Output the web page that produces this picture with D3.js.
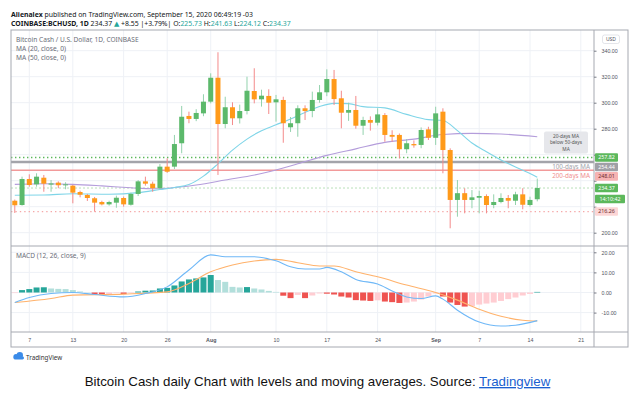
<!DOCTYPE html>
<meta charset="utf-8">
<title>BCHUSD daily</title>
<style>
html, body {
  margin: 0;
  padding: 0;
  background: #fff;
}
svg {
  display: block;
  font-family: "Noto Sans", "DejaVu Sans", sans-serif;
}
.grid line { stroke: #eef1f6; stroke-width: 1; }
.axis text { fill: #50535e; font-size: 5.3px; }
.axis line { stroke: #787b86; }
.axis .domain { display: none; }
.frame { fill: none; stroke: #a6a9b1; stroke-width: 1; }
.legend { fill: #6a6d78; font-size: 6.6px; }
.head { fill: #131722; font-size: 6.9px; }
</style>
<body>
<svg width="643" height="404"></svg>
<script src="https://d3js.org/d3.v7.min.js"></script>
<script>

// daily candles, Jul 5 .. Sep 15 2020
var startDay = new Date(2020, 6, 5),
    endDay = new Date(2020, 8, 16);

var opens = [224.6, 221.3, 241.3, 237.2, 242.3, 237.0, 238.5, 236.5, 236.2, 231.3,
  229.0, 226.5, 223.6, 221.8, 223.1, 226.7, 221.5, 229.8, 239.5, 237.7,
  234.2, 250.8, 250.8, 268.8, 289.8, 287.5, 291.8, 300.8, 319.2, 283.6,
  296.5, 288.0, 293.6, 309.0, 302.6, 305.2, 300.3, 302.1, 281.1, 284.2,
  295.7, 293.6, 302.1, 308.0, 318.2, 303.4, 292.3, 294.4, 282.3, 286.7,
  284.6, 290.5, 275.2, 275.2, 264.2, 268.2, 267.5, 279.5, 273.0, 293.1,
  263.6, 225.2, 230.4, 225.2, 226.9, 228.2, 221.3, 223.6, 226.7, 224.6,
  229.5, 221.3, 225.73];
var highs = [225.5, 243.1, 244.9, 245.7, 244.4, 240.5, 239.5, 238.8, 236.8, 232.3,
  229.8, 227.5, 224.6, 224.6, 228.5, 227.8, 230.8, 240.5, 243.1, 239.3,
  252.8, 257.2, 275.2, 297.5, 293.1, 295.0, 306.5, 322.6, 338.8, 304.6,
  300.3, 298.5, 320.0, 326.5, 310.0, 310.3, 306.0, 304.6, 289.0, 298.0,
  298.0, 308.5, 313.6, 325.7, 325.2, 309.2, 300.0, 305.2, 289.2, 289.5,
  295.7, 292.0, 278.8, 276.3, 272.0, 271.0, 281.0, 281.5, 296.9, 295.7,
  264.9, 240.5, 234.2, 232.8, 232.3, 229.5, 229.5, 230.3, 229.0, 231.5,
  234.2, 227.7, 241.63];
var lows = [215.2, 220.8, 235.4, 235.4, 231.5, 231.5, 234.2, 233.4, 222.6, 227.2,
  224.4, 216.2, 221.0, 220.8, 219.2, 220.0, 220.8, 228.2, 236.2, 231.5,
  233.4, 246.0, 249.0, 261.1, 284.2, 285.8, 289.6, 299.5, 244.4, 280.3,
  282.8, 284.0, 291.0, 299.5, 297.0, 291.3, 285.4, 269.2, 277.5, 273.8,
  286.7, 288.8, 300.0, 305.0, 298.2, 280.3, 286.0, 280.0, 275.2, 278.5,
  282.5, 270.0, 270.0, 257.2, 261.1, 265.4, 265.0, 271.3, 267.5, 245.7,
  203.4, 212.3, 214.9, 218.8, 214.9, 214.9, 218.8, 222.6, 218.8, 221.3,
  218.0, 220.0, 224.12];
var closes = [221.1, 241.3, 236.7, 243.1, 237.7, 237.9, 236.5, 237.2, 230.8, 229.2,
  226.7, 223.1, 221.8, 223.6, 226.9, 221.8, 229.8, 239.5, 237.7, 234.2,
  250.8, 246.9, 268.2, 289.2, 287.5, 292.1, 300.8, 319.2, 283.6, 296.5,
  288.0, 293.6, 309.2, 302.6, 305.4, 300.0, 302.6, 284.2, 284.2, 295.7,
  293.6, 302.1, 308.0, 318.2, 302.8, 292.3, 294.4, 282.3, 286.7, 284.6,
  291.0, 275.2, 273.8, 264.2, 268.8, 267.2, 279.0, 273.0, 291.8, 263.6,
  225.2, 230.4, 225.2, 227.2, 228.2, 221.3, 223.6, 226.7, 224.6, 229.5,
  221.5, 225.2, 234.37];

// moving averages
var ma20 = [["2020-07-05", 228.8], ["2020-07-09", 229.0], ["2020-07-13", 230.0], ["2020-07-18", 229.6],
  ["2020-07-22", 230.8], ["2020-07-25", 233.2], ["2020-07-27", 234.8], ["2020-07-29", 237.0],
  ["2020-07-31", 243.5], ["2020-08-02", 253.0], ["2020-08-04", 263.5], ["2020-08-06", 272.0],
  ["2020-08-08", 278.5], ["2020-08-10", 283.0], ["2020-08-12", 287.5], ["2020-08-14", 292.5],
  ["2020-08-16", 297.0], ["2020-08-18", 299.5], ["2020-08-20", 299.3], ["2020-08-22", 297.0],
  ["2020-08-25", 296.0], ["2020-08-28", 291.0], ["2020-08-31", 287.0], ["2020-09-02", 286.3],
  ["2020-09-04", 278.5], ["2020-09-06", 269.0], ["2020-09-08", 262.3], ["2020-09-10", 256.0],
  ["2020-09-12", 250.5], ["2020-09-14", 245.5], ["2020-09-15", 242.7]];
var ma50 = [["2020-07-05", 237.2], ["2020-07-09", 237.7], ["2020-07-13", 237.2], ["2020-07-17", 236.0],
  ["2020-07-21", 234.6], ["2020-07-24", 233.8], ["2020-07-26", 234.2], ["2020-07-30", 236.7],
  ["2020-08-03", 240.5], ["2020-08-08", 245.5], ["2020-08-13", 253.0], ["2020-08-17", 259.5],
  ["2020-08-21", 264.5], ["2020-08-25", 269.5], ["2020-08-29", 272.0], ["2020-09-02", 275.5],
  ["2020-09-06", 276.4], ["2020-09-10", 275.9], ["2020-09-15", 273.8]];

// MACD (12, 26, close, 9)
var hist = [-0.3, 1.2, 1.7, 2.5, 2.6, 2.0, 1.8, 1.7, 1.2, 0.5,
  0.1, -0.9, -1.1, -1.0, -0.3, -0.8, -0.2, 0.5, 0.9, 1.0,
  2.0, 2.3, 3.5, 5.5, 6.5, 7.0, 7.5, 8.7, 6.2, 5.3,
  2.8, 2.5, 2.7, 2.0, 1.5, 0.8, 0.3, -1.6, -2.8, -1.2,
  -2.8, -1.5, -0.5, -0.6, -1.0, -2.0, -2.5, -3.8, -4.0, -4.2,
  -3.9, -4.5, -4.8, -5.2, -5.0, -4.5, -3.5, -2.0, -0.5, -2.0,
  -5.0, -6.2, -7.0, -6.8, -6.0, -5.5, -5.0, -4.2, -3.3, -2.5,
  -1.5, -0.7, 0.3];
var macdLine = [["2020-07-05", -5.0], ["2020-07-07", -2.5], ["2020-07-10", -0.5], ["2020-07-13", 0.0],
  ["2020-07-16", -1.0], ["2020-07-20", -2.2], ["2020-07-23", -0.5], ["2020-07-26", 2.8],
  ["2020-07-29", 11.2], ["2020-08-01", 18.7], ["2020-08-03", 17.8], ["2020-08-05", 17.8],
  ["2020-08-07", 17.8], ["2020-08-09", 16.7], ["2020-08-10", 15.8], ["2020-08-12", 12.8],
  ["2020-08-14", 11.7], ["2020-08-16", 11.7], ["2020-08-17", 12.5], ["2020-08-19", 10.3],
  ["2020-08-21", 6.5], ["2020-08-24", 4.2], ["2020-08-26", 0.8], ["2020-08-28", -2.2],
  ["2020-08-30", -3.0], ["2020-09-01", -1.7], ["2020-09-02", -3.3], ["2020-09-04", -8.8],
  ["2020-09-07", -14.7], ["2020-09-10", -16.7], ["2020-09-12", -16.3], ["2020-09-15", -14.0]];
var signalLine = [["2020-07-05", -5.0], ["2020-07-10", -3.0], ["2020-07-13", -1.3], ["2020-07-20", -0.8],
  ["2020-07-26", 0.3], ["2020-07-29", 4.5], ["2020-08-01", 10.3], ["2020-08-04", 13.7],
  ["2020-08-07", 15.7], ["2020-08-10", 16.5], ["2020-08-13", 14.8], ["2020-08-16", 13.2],
  ["2020-08-18", 13.2], ["2020-08-21", 10.3], ["2020-08-24", 7.8], ["2020-08-28", 3.7],
  ["2020-09-01", 0.0], ["2020-09-04", -3.8], ["2020-09-07", -8.3], ["2020-09-10", -11.8],
  ["2020-09-13", -13.8], ["2020-09-15", -14.2]];

// horizontal levels
var greenLevel = 257.82, ma100Level = 254.44, ma200Level = 248.01, supportLevel = 216.26;

var priceTicks = [200, 220, 240, 260, 280, 300, 320, 340];
var macdTicks = [-10, 0, 10, 20];
var dateTicks = ["2020-07-07", "2020-07-13", "2020-07-20", "2020-07-26", "2020-08-01", "2020-08-10",
  "2020-08-17", "2020-08-24", "2020-09-01", "2020-09-07", "2020-09-14", "2020-09-21"];

var parse = d3.timeParse("%Y-%m-%d");
var days = d3.timeDay.range(startDay, endDay);
var candles = days.map(function(d, i) {
  return {date: d, o: opens[i], h: highs[i], l: lows[i], c: closes[i]};
});

var svg = d3.select("svg");

// panel layout
var left = 11, right = 594, outerRight = 628,
    plotTop = 30, priceBottom = 246, macdBottom = 332, plotBottom = 347;

var x = d3.scaleTime()
    .domain([parse("2020-07-07"), parse("2020-09-14")])
    .range([29.3, 530]);
var y = d3.scaleLinear().domain([200, 340]).range([232.7, 50.7]);
var ym = d3.scaleLinear().domain([-10, 20]).range([312.6, 252.3]);

svg.append("rect").attr("width", 643).attr("height", 404).attr("fill", "#fff");

var defs = svg.append("defs");
defs.append("clipPath").attr("id", "clipPrice")
  .append("rect").attr("x", left).attr("y", plotTop).attr("width", right - left).attr("height", priceBottom - plotTop);
defs.append("clipPath").attr("id", "clipMacd")
  .append("rect").attr("x", left).attr("y", priceBottom).attr("width", right - left).attr("height", macdBottom - priceBottom);

// grid
var grid = svg.append("g").attr("class", "grid");
grid.selectAll("line.v").data(dateTicks.map(parse)).join("line")
    .attr("class", "v")
    .attr("x1", function(d) { return x(d); }).attr("x2", function(d) { return x(d); })
    .attr("y1", plotTop).attr("y2", macdBottom);
grid.selectAll("line.hp").data(priceTicks).join("line")
    .attr("class", "hp")
    .attr("x1", left).attr("x2", right)
    .attr("y1", function(d) { return y(d); }).attr("y2", function(d) { return y(d); });
grid.selectAll("line.hm").data(macdTicks).join("line")
    .attr("class", "hm")
    .attr("x1", left).attr("x2", right)
    .attr("y1", function(d) { return ym(d); }).attr("y2", function(d) { return ym(d); });

// level lines
var levels = svg.append("g").attr("clip-path", "url(#clipPrice)");
function level(v, color, width, dash) {
  levels.append("line")
    .attr("x1", left).attr("x2", right)
    .attr("y1", y(v)).attr("y2", y(v))
    .attr("stroke", color).attr("stroke-width", width)
    .attr("stroke-dasharray", dash);
}
level(ma200Level, "#f29a9a", 1.5, null);
level(ma100Level, "#a3a4aa", 2.4, null);
level(greenLevel, "#5cb85c", 1.4, "1.4,2.6");
level(supportLevel, "#f5a9a9", 1.3, "1.4,3");
level(closes[closes.length - 1], "#a8d8a8", 0.8, "2,2");

// moving averages
var maLine = d3.line()
    .x(function(d) { return x(parse(d[0])); })
    .y(function(d) { return y(d[1]); })
    .curve(d3.curveMonotoneX);
var maG = svg.append("g").attr("clip-path", "url(#clipPrice)");
maG.append("path").datum(ma50).attr("d", maLine)
    .attr("fill", "none").attr("stroke", "#b49ddb").attr("stroke-width", 1.1);
maG.append("path").datum(ma20).attr("d", maLine)
    .attr("fill", "none").attr("stroke", "#7fd5e8").attr("stroke-width", 1.1);

// candles
var bw = 5;
var candle = svg.append("g").attr("clip-path", "url(#clipPrice)")
  .selectAll("g").data(candles).join("g");
candle.append("line")
    .attr("x1", function(d) { return x(d.date); }).attr("x2", function(d) { return x(d.date); })
    .attr("y1", function(d) { return y(d.h); }).attr("y2", function(d) { return y(d.l); })
    .attr("stroke", function(d) { return d.c >= d.o ? "#93d2ad" : "#f48a8a"; })
    .attr("stroke-width", 1);
candle.append("rect")
    .attr("x", function(d) { return x(d.date) - bw / 2; })
    .attr("width", bw)
    .attr("y", function(d) { return y(Math.max(d.o, d.c)); })
    .attr("height", function(d) { return Math.max(1, Math.abs(y(d.o) - y(d.c))); })
    .attr("fill", function(d) { return d.c >= d.o ? "#5cb96b" : "#ff9a1a"; });

// level notes
svg.append("text").attr("x", 590).attr("y", y(ma100Level) + 7.3)
    .attr("text-anchor", "end").attr("fill", "#a3a4aa").style("font-size", "6.3px")
    .text("100-days MA");
svg.append("text").attr("x", 590).attr("y", y(ma200Level) + 7.8)
    .attr("text-anchor", "end").attr("fill", "#f08f8f").style("font-size", "6.3px")
    .text("200-days MA");

var note = svg.append("g");
note.append("rect").attr("x", 544).attr("y", 131.5).attr("width", 44).attr("height", 22)
    .attr("rx", 2).attr("fill", "#e6e7eb");
note.selectAll("text").data(["20-days MA", "below 50-days", "MA"]).join("text")
    .attr("x", 566).attr("y", function(d, i) { return 137.6 + i * 6.6; })
    .attr("text-anchor", "middle").attr("fill", "#555").style("font-size", "4.8px")
    .text(function(d) { return d; });

// MACD histogram
var barW = 6;
svg.append("g").attr("clip-path", "url(#clipMacd)")
  .selectAll("rect").data(hist).join("rect")
    .attr("x", function(d, i) { return x(days[i]) - barW / 2; })
    .attr("width", barW)
    .attr("y", function(d) { return ym(Math.max(0, d)); })
    .attr("height", function(d) { return Math.abs(ym(d) - ym(0)); })
    .attr("fill", function(d, i) {
      var prev = i > 0 ? hist[i - 1] : d;
      if (d >= 0) return d > prev ? "#26a69a" : "#b2dfdb";
      return d < prev ? "#ef5350" : "#ffcdd2";
    });

var macdPath = d3.line()
    .x(function(d) { return x(parse(d[0])); })
    .y(function(d) { return ym(d[1]); })
    .curve(d3.curveMonotoneX);
var mg = svg.append("g").attr("clip-path", "url(#clipMacd)");
mg.append("path").datum(signalLine).attr("d", macdPath)
    .attr("fill", "none").attr("stroke", "#ffb26b").attr("stroke-width", 1.1);
mg.append("path").datum(macdLine).attr("d", macdPath)
    .attr("fill", "none").attr("stroke", "#6fb8f7").attr("stroke-width", 1.1);

// frame
svg.append("rect").attr("class", "frame")
    .attr("x", left).attr("y", plotTop).attr("width", outerRight - left).attr("height", plotBottom - plotTop);
svg.append("line").attr("class", "frame").attr("x1", right).attr("x2", right).attr("y1", plotTop).attr("y2", plotBottom);
svg.append("line").attr("class", "frame").attr("x1", left).attr("x2", outerRight).attr("y1", priceBottom).attr("y2", priceBottom);
svg.append("line").attr("class", "frame").attr("x1", left).attr("x2", outerRight).attr("y1", macdBottom).attr("y2", macdBottom);

// price labels on the scale
var lastPrice = closes[closes.length - 1];
var tags = [
  {v: greenLevel, text: "257.82", bg: "#5cb85c", fg: "#fff", w: 23},
  {v: ma100Level, text: "254.44", bg: "#9fa0a6", fg: "#fff", w: 23},
  {v: ma200Level, text: "248.01", bg: "#f6b3b3", fg: "#6b2b2b", w: 23},
  {v: lastPrice, text: d3.format(".2f")(lastPrice), bg: "#5cb85c", fg: "#fff", w: 23},
  {v: null, text: "14:10:42", bg: "#5cb85c", fg: "#fff", w: 30},
  {v: supportLevel, text: "216.26", bg: "#fcd6d6", fg: "#6b2b2b", w: 23}
];
var gap = 9.4, prevY = -100;
tags.forEach(function(t) {
  var ty = t.v === null ? prevY + 11 : Math.max(y(t.v), prevY + gap);
  t.y = ty;
  prevY = ty;
});

// axes (price labels hidden where a tag covers them)
var fmt = function(d) { return d3.format(".2f")(d).replace("\u2212", "-"); };
var priceAxis = svg.append("g").attr("class", "axis")
    .attr("transform", "translate(" + right + ",0)")
    .call(d3.axisRight(y).tickValues(priceTicks).tickFormat(fmt).tickSize(2.5).tickPadding(5));
priceAxis.selectAll(".tick text").style("display", function(d) {
  return tags.some(function(t) { return Math.abs(t.y - y(d)) < 8; }) ? "none" : null;
});
svg.append("g").attr("class", "axis")
    .attr("transform", "translate(" + right + ",0)")
    .call(d3.axisRight(ym).tickValues(macdTicks).tickFormat(fmt).tickSize(2.5).tickPadding(5));
var xAxis = svg.append("g").attr("class", "axis")
    .attr("transform", "translate(0," + macdBottom + ")")
    .call(d3.axisBottom(x).tickValues(dateTicks.map(parse)).tickSize(0).tickPadding(6)
      .tickFormat(function(d) { return d.getDate() === 1 ? d3.timeFormat("%b")(d) : d.getDate(); }));
xAxis.selectAll("text").style("font-weight", function(d) { return d.getDate() === 1 ? 600 : null; });

var tag = svg.append("g").selectAll("g").data(tags).join("g")
    .attr("transform", function(d) { return "translate(" + (right + 1) + "," + d.y + ")"; });
tag.append("rect").attr("x", 0).attr("y", -4.3).attr("width", function(d) { return d.w; }).attr("height", 8.6)
    .attr("rx", 1).attr("fill", function(d) { return d.bg; });
tag.append("text").attr("x", function(d) { return d.w / 2; }).attr("y", 1.9)
    .attr("text-anchor", "middle").attr("fill", function(d) { return d.fg; })
    .style("font-size", "5.3px").text(function(d) { return d.text; });

// USD badge
svg.append("rect").attr("x", 602.5).attr("y", 35).attr("width", 17).attr("height", 8.5).attr("rx", 2)
    .attr("fill", "#fff").attr("stroke", "#d1d4dc").attr("stroke-width", 0.6);
svg.append("text").attr("x", 611).attr("y", 41.2).attr("text-anchor", "middle")
    .attr("fill", "#50535e").style("font-size", "5px").text("USD");

// header
var h1 = svg.append("text").attr("class", "head").attr("x", left).attr("y", 17);
h1.append("tspan").style("font-weight", "bold").text("Alienalex");
h1.append("tspan").text(" published on TradingView.com, September 15, 2020 06:49:19 -03");
var teal = "#26a69a";
var h2 = svg.append("text").attr("class", "head").attr("x", left).attr("y", 26);
h2.append("tspan").style("font-weight", "bold").text("COINBASE:BCHUSD, 1D");
h2.append("tspan").text(" 234.37 ");
h2.append("tspan").attr("fill", teal).text("\u25B2");
h2.append("tspan").text(" +8.55 |+3.79%| O:");
h2.append("tspan").attr("fill", teal).text("225.73");
h2.append("tspan").text(" H:");
h2.append("tspan").attr("fill", teal).text("241.63");
h2.append("tspan").text(" L:");
h2.append("tspan").attr("fill", teal).text("224.12");
h2.append("tspan").text(" C:");
h2.append("tspan").attr("fill", teal).text("234.37");

// legends
svg.selectAll("text.lg").data(["Bitcoin Cash / U.S. Dollar, 1D, COINBASE", "MA (20, close, 0)", "MA (50, close, 0)"])
  .join("text").attr("class", "legend lg")
    .attr("x", 16).attr("y", function(d, i) { return 42.3 + i * 8.7; })
    .text(function(d) { return d; });
svg.append("text").attr("class", "legend").attr("x", 16).attr("y", 258).text("MACD (12, 26, close, 9)");

// TradingView mark
var logo = svg.append("g").attr("transform", "translate(12,352)");
logo.append("circle").attr("cx", 4).attr("cy", 4.5).attr("r", 2.6).attr("fill", "#3b8be8");
logo.append("circle").attr("cx", 7.8).attr("cy", 3.3).attr("r", 3.2).attr("fill", "#3b8be8");
logo.append("rect").attr("x", 1.5).attr("y", 4.5).attr("width", 10.5).attr("height", 3).attr("rx", 1.4).attr("fill", "#3b8be8");
svg.append("text").attr("x", 26).attr("y", 359.5).attr("fill", "#333").style("font-size", "6.3px").text("TradingView");

// caption
var cap = svg.append("text").attr("x", 317.5).attr("y", 386)
    .attr("text-anchor", "middle")
    .style("font-family", "'Liberation Sans', Arial, sans-serif")
    .style("font-size", "13.3px").attr("fill", "#111");
cap.append("tspan").text("Bitcoin Cash daily Chart with levels and moving averages. Source: ");
cap.append("tspan").attr("fill", "#1a5fd0").attr("text-decoration", "underline").text("Tradingview");

</script>
</body>
